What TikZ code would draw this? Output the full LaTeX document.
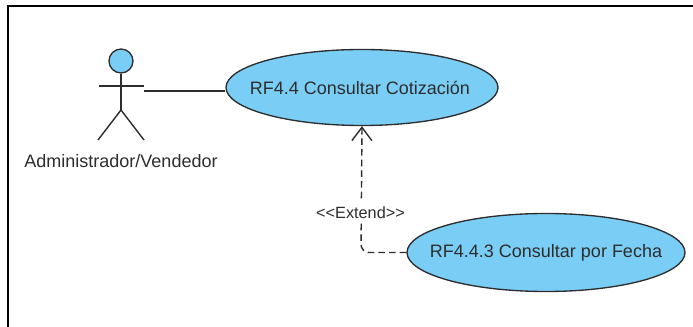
\documentclass[tikz,border=0pt]{standalone}
\usepackage{fontspec}
\setmainfont{Liberation Sans}[Ligatures=NoCommon]
\usetikzlibrary{arrows.meta,shapes.geometric}
\definecolor{ucblue}{RGB}{122,206,245}
\definecolor{ink}{RGB}{45,45,45}
\tikzset{
  px/.style={x=0.75pt,y=-0.75pt},
  usecase/.style={ellipse,draw=ink,fill=ucblue,line width=1pt,inner xsep=-40pt,inner ysep=0pt,text=ink,font=\fontsize{13.5pt}{16pt}\selectfont},
  limb/.style={draw=ink,line width=1.05pt},
  lbl/.style={text=ink,inner sep=0pt},
}
\begin{document}
\begin{tikzpicture}[px]
\useasboundingbox (0,0) rectangle (693,327);
\draw[black,line width=1.5pt] (8,327) -- (8,6) -- (693,6);
% actor
\node[circle,draw=ink,fill=ucblue,line width=1pt,minimum size=24*0.75pt,inner sep=0pt] (head) at (121,61) {};
\coordinate (hip) at (121,110);
\coordinate (armL) at (99,86);
\coordinate (armR) at (144,86);
\coordinate (footL) at (98,140);
\coordinate (footR) at (144,140);
\draw[limb] (head.south) -- (hip);
\draw[limb] (armL) -- (armR);
\draw[limb] (footL) -- (hip) -- (footR);
\node[lbl,font=\fontsize{13.5pt}{16pt}\selectfont] (actor) at (121,161) {Administrador/Vendedor};
% use cases
\node[usecase,minimum width=272*0.75pt,minimum height=76*0.75pt] (uc1) at (362,87.5) {\kern-3pt RF4.4 Consultar Cotización};
\node[usecase,minimum width=278*0.75pt,minimum height=78*0.75pt] (uc2) at (546,252.5) {RF4.4.3 Consultar por Fecha};
\coordinate (actorport) at (144,91);
\draw[limb] (actorport) -- (uc1.west |- actorport);
\coordinate (bend) at (361,252.5);
\draw[limb,dash pattern=on 5pt off 3pt,rounded corners=6pt,-{Straight Barb[length=10pt,width=15pt,line width=1.05pt]}]
  (uc2.west) -- (bend) -- (uc1.south);
\node[lbl,fill=white,font=\fontsize{12.2pt}{14pt}\selectfont,minimum height=21*0.75pt,inner xsep=1pt] (ext) at (360.5,212.5) {{<}{<}Extend{>}{>}};
\end{tikzpicture}
\end{document}
